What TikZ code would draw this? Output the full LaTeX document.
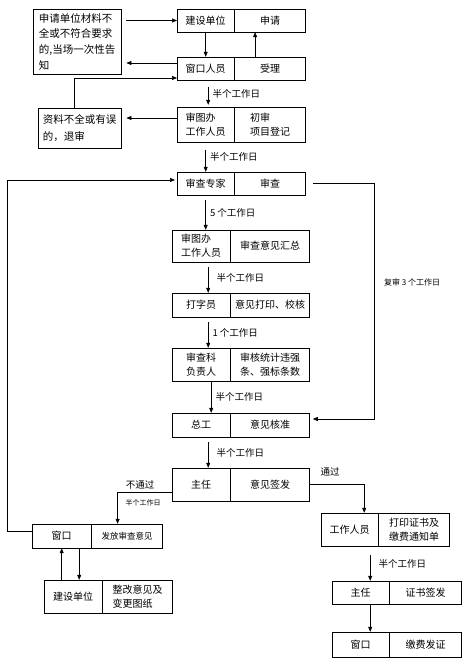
\documentclass[tikz,border=0pt]{standalone}
\usepackage{fontspec}
\setmainfont{Noto Sans CJK SC}
\usetikzlibrary{arrows.meta,positioning}

\begin{document}
\begin{tikzpicture}[
    x=1pt, y=-1pt,
    cell/.style={rectangle, draw, inner sep=1pt, align=center,
                 font=\fontsize{10}{14}\selectfont},
    note/.style={rectangle, draw, inner sep=4pt, align=left,
                 font=\fontsize{10.5}{15.7}\selectfont},
    lbl/.style={font=\fontsize{9.5}{11}\selectfont, inner sep=4pt},
    arr/.style={-{Triangle[length=5pt,width=4pt]}, line width=0.6pt},
]
    \useasboundingbox (0,0) rectangle (464,663);

    % application and acceptance
    \node[note, minimum width=88pt, minimum height=63pt, anchor=north west] (notice) at (33,9)
        {申请单位材料不\\全或不符合要求\\的,当场一次性告\\知};
    \node[cell, minimum width=57pt, minimum height=23pt, anchor=west] (apply1) at (177,20.5) {建设单位};
    \node[cell, minimum width=71pt, minimum height=23pt, right=0pt of apply1] (apply2) {申请};
    \node[cell, minimum width=57pt, minimum height=23pt, anchor=west] (accept1) at (177,68.5) {窗口人员};
    \node[cell, minimum width=71pt, minimum height=23pt, right=0pt of accept1] (accept2) {受理};
    \node[note, minimum width=83pt, minimum height=40pt, anchor=north west,
          font=\fontsize{10.5}{17}\selectfont] (return) at (38,108) {资料不全或有误\\的，退审};
    \node[cell, minimum width=57pt, minimum height=35pt, anchor=west, align=left] (first1) at (177,124.5) {审图办\\工作人员};
    \node[cell, minimum width=71pt, minimum height=35pt, right=0pt of first1, align=left] (first2) {初审\\项目登记};

    % review chain
    \node[cell, minimum width=57pt, minimum height=23pt, anchor=west] (expert1) at (177,183.5) {审查专家};
    \node[cell, minimum width=71pt, minimum height=23pt, right=0pt of expert1] (expert2) {审查};
    \node[cell, minimum width=58pt, minimum height=32pt, anchor=west, align=left] (summary1) at (172,246) {审图办\\工作人员};
    \node[cell, minimum width=79pt, minimum height=32pt, right=0pt of summary1] (summary2) {审查意见汇总};
    \node[cell, minimum width=58pt, minimum height=24pt, anchor=west] (typist1) at (172,305) {打字员};
    \node[cell, minimum width=79pt, minimum height=24pt, right=0pt of typist1] (typist2) {意见打印、校核};
    \node[cell, minimum width=58pt, minimum height=33pt, anchor=west, align=left] (chief1) at (172,364.5) {审查科\\负责人};
    \node[cell, minimum width=79pt, minimum height=33pt, right=0pt of chief1, align=left] (chief2) {审核统计违强\\条、强标条数};
    \node[cell, minimum width=58pt, minimum height=24pt, anchor=west] (engineer1) at (172,425) {总工};
    \node[cell, minimum width=79pt, minimum height=24pt, right=0pt of engineer1] (engineer2) {意见核准};
    \node[cell, minimum width=58pt, minimum height=33pt, anchor=west] (director1) at (172,484.5) {主任};
    \node[cell, minimum width=79pt, minimum height=33pt, right=0pt of director1] (director2) {意见签发};

    % not passed
    \node[cell, minimum width=59pt, minimum height=24pt, anchor=west] (window1) at (32,536) {窗口};
    \node[cell, minimum width=71pt, minimum height=24pt, right=0pt of window1,
          font=\fontsize{8.5}{10}\selectfont] (window2) {发放审查意见};
    \node[cell, minimum width=58pt, minimum height=33pt, anchor=west] (builder1) at (44,596.5) {建设单位};
    \node[cell, minimum width=70pt, minimum height=33pt, right=0pt of builder1, align=left] (builder2) {整改意见及\\变更图纸};

    % passed
    \node[cell, minimum width=57pt, minimum height=33pt, anchor=west] (staff1) at (321,529.5) {工作人员};
    \node[cell, minimum width=71pt, minimum height=33pt, right=0pt of staff1, align=left] (staff2) {打印证书及\\缴费通知单};
    \node[cell, minimum width=57pt, minimum height=23pt, anchor=west] (sign1) at (332,592.5) {主任};
    \node[cell, minimum width=72pt, minimum height=23pt, right=0pt of sign1] (sign2) {证书签发};
    \node[cell, minimum width=57pt, minimum height=25pt, anchor=west] (issue1) at (332,644.5) {窗口};
    \node[cell, minimum width=72pt, minimum height=25pt, right=0pt of issue1] (issue2) {缴费发证};

    % connectors, top part
    \draw[arr, shorten <=5pt] (notice.east |- apply1.west) -- (apply1.west);
    \draw[arr] (apply1.south) -- (accept1.north);
    \draw[arr] ([xshift=-15pt]accept2.north) -- ([xshift=-15pt]apply2.south);
    \draw[arr, shorten >=5pt] ([yshift=5.5pt]accept1.west) -- ([yshift=5.5pt]accept1.west -| notice.east);
    \draw[arr] ([xshift=-5.5pt]return.north) |- ([yshift=-9.5pt]accept1.west);
    \draw[arr, shorten >=5pt] ([yshift=6.5pt]first1.west) -- ([yshift=6.5pt]first1.west -| return.east);
    \draw[arr, shorten <=7pt, shorten >=2pt] ([xshift=2.5pt]accept1.south) -- ([xshift=2.5pt]first1.north)
        node[lbl, midway, right] (day1) {半个工作日};
    \draw[arr, shorten <=8pt] (first1.south) -- (expert1.north)
        node[lbl, midway, right] (day2) {半个工作日};

    % connectors, review chain
    \draw[arr, shorten <=5pt] (expert1.south) -- (expert1.south |- summary1.north)
        node[lbl, midway, right] (day3) {5 个工作日};
    \draw[arr, shorten <=5pt] ([xshift=7pt]summary1.south) -- ([xshift=7pt]typist1.north)
        node[lbl, midway, right, xshift=4pt] (day4) {半个工作日};
    \draw[arr, shorten <=5pt] ([xshift=7pt]typist1.south) -- ([xshift=7pt]chief1.north)
        node[lbl, midway, right] (day5) {1 个工作日};
    \draw[arr] ([xshift=10pt]chief1.south) -- ([xshift=10pt]engineer1.north)
        node[lbl, midway, right] (day6) {半个工作日};
    \draw[arr, shorten <=5pt] ([xshift=7pt]engineer1.south) -- ([xshift=7pt]director1.north)
        node[lbl, midway, right, xshift=4pt] (day7) {半个工作日};

    % recheck loop
    \draw[arr, shorten <=7pt, shorten >=3pt] (expert2.east) -- ++(68,0) |- ([yshift=6pt]engineer2.east);
    \node[lbl, anchor=west, font=\fontsize{8}{10}\selectfont] (recheck) at (380,282) {复审 3 个工作日};

    % not passed branch
    \draw[arr] ([yshift=-7.5pt]director1.west) -| ([xshift=-9.5pt]window2.north);
    \node[lbl] (failnote) at (140,485) {不通过};
    \node[lbl, font=\fontsize{7}{8}\selectfont] (faildays) at (143,503) {半个工作日};
    \draw[arr, shorten >=2pt] ([yshift=5pt]window1.west) -- ++(-25,0) |- ([yshift=3.5pt]expert1.west);
    \draw[arr] (builder1.north -| window1.south) -- (window1.south);
    \draw[arr] ([xshift=6pt]builder1.north |- window1.south) -- ([xshift=6pt]builder1.north);

    % passed branch
    \draw[arr] (director2.east) -| ([xshift=14.5pt]staff1.north);
    \node[lbl] (passnote) at (330,472) {通过};
    \draw[arr, shorten <=9pt] ([xshift=9.5pt]sign1.north |- staff1.south) -- ([xshift=9.5pt]sign1.north)
        node[lbl, midway, right, xshift=4pt] (day8) {半个工作日};
    \draw[arr] ([xshift=9.5pt]sign1.south) -- ([xshift=9.5pt]issue1.north);
\end{tikzpicture}
\end{document}
